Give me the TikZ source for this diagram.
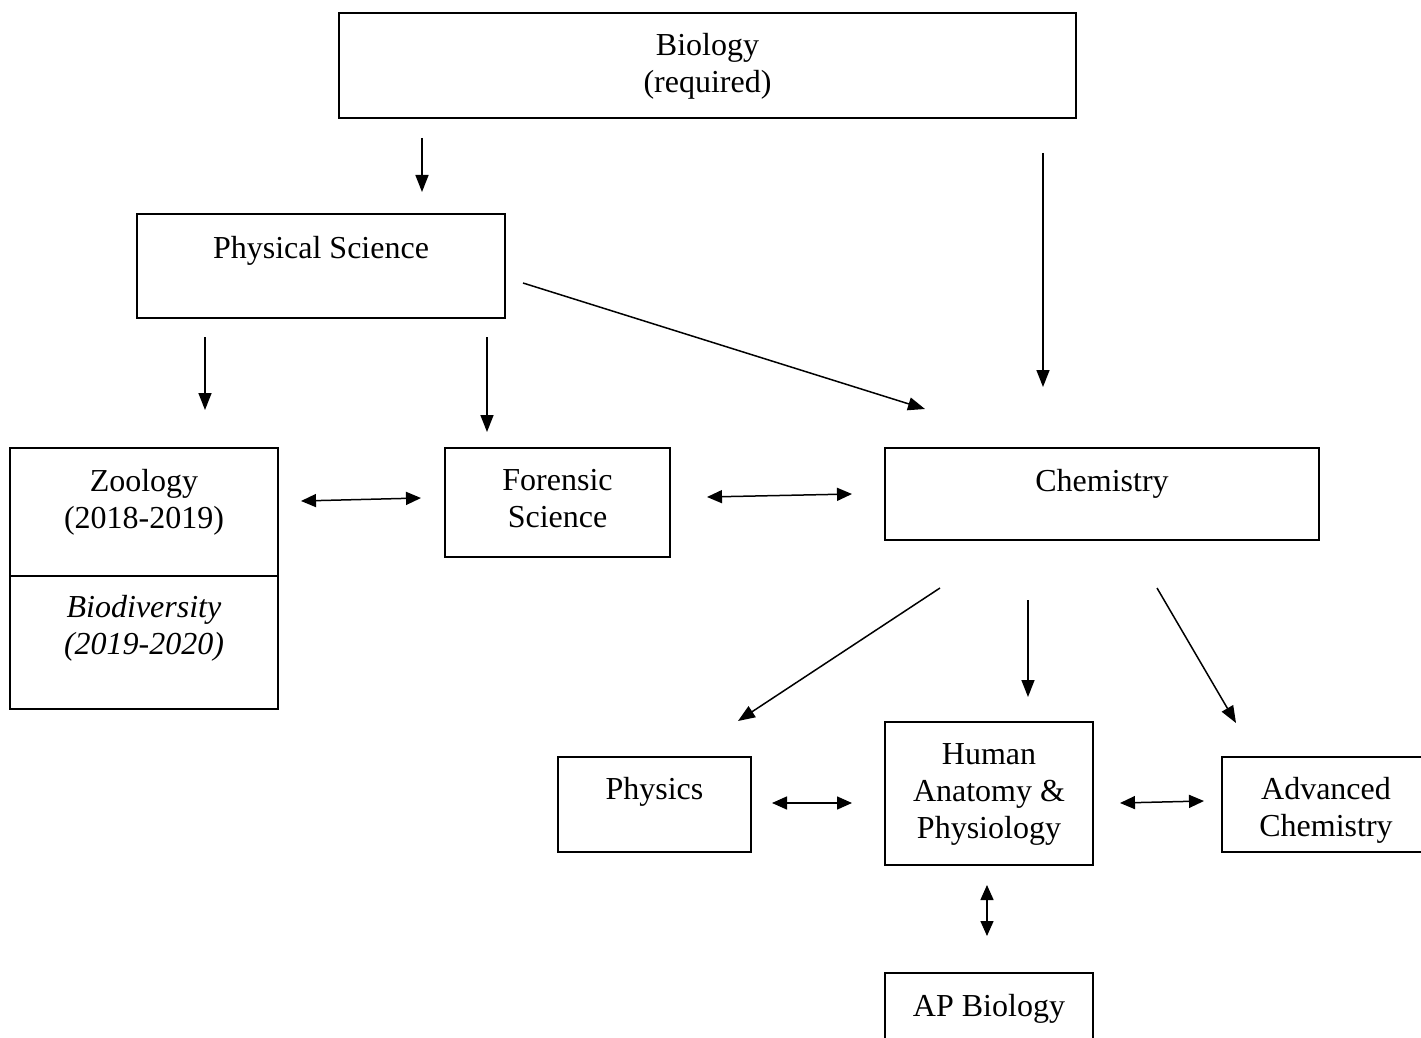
\documentclass[tikz,border=0pt]{standalone}
\usepackage{fontspec}
\setmainfont{Liberation Serif}
\usetikzlibrary{arrows.meta}
\begin{document}
\begin{tikzpicture}[x=0.5pt,y=-0.5pt,
  box/.style={draw, line width=0.9pt, rectangle, inner sep=0pt},
  lbl/.style={anchor=base, align=center, inner sep=0pt, font=\fontsize{16}{18.5}\selectfont},
  conn/.style={line width=0.75pt, -{Triangle[length=8.5pt,width=6.5pt]}},
  dconn/.style={line width=0.75pt, {Triangle[length=7.5pt,width=6.5pt]}-{Triangle[length=7.5pt,width=6.5pt]}}]
\useasboundingbox (0,0) rectangle (1421,1038);
% boxes
\node[box, minimum width=368.5pt, minimum height=52.5pt] (bio) at (707.5,65.5) {};
\node[box, minimum width=184pt, minimum height=52pt] (phys) at (321,266) {};
\node[box, minimum width=134pt, minimum height=130.5pt] (zoo) at (144,578.5) {};
\node[box, minimum width=112.5pt, minimum height=54.5pt] (for) at (557.5,502.5) {};
\node[box, minimum width=217pt, minimum height=46pt] (chem) at (1102,494) {};
\node[box, minimum width=96.5pt, minimum height=47.5pt] (phy) at (654.5,804.5) {};
\node[box, minimum width=104pt, minimum height=71.5pt] (hap) at (989,793.5) {};
\node[box, minimum width=105pt, minimum height=47.5pt] (adv) at (1327,804.5) {};
\node[box, minimum width=104pt, minimum height=43.5pt] (ap) at (989,1016.5) {};
\coordinate (zdl) at (10,576);
\coordinate (zdr) at (278,576);
\draw[line width=0.9pt] (zdl) -- (zdr);
% labels (anchor = baseline of the last line)
\node[lbl] (tbio) at (707.5,93) {Biology\\(required)};
\node[lbl] (tphys) at (321,258) {Physical Science};
\node[lbl] (tzoo) at (144,528) {Zoology\\(2018-2019)};
\node[lbl, font=\fontsize{16}{18.5}\selectfont\itshape] (tbiod) at (144,654) {Biodiversity\\(2019-2020)};
\node[lbl] (tfor) at (557.5,527) {Forensic\\Science};
\node[lbl] (tchem) at (1102,491) {Chemistry};
\node[lbl] (tphy) at (654.5,799) {Physics};
\node[lbl] (thap) at (989,838) {Human\\Anatomy \&\\Physiology};
\node[lbl] (tadv) at (1326,836) {Advanced\\Chemistry};
\node[lbl] (tap) at (989,1016) {AP Biology};
% connector end points
\coordinate (a1s) at (422,138); \coordinate (a1e) at (422,192);
\coordinate (a2s) at (1043,153); \coordinate (a2e) at (1043,387);
\coordinate (a3s) at (523,283); \coordinate (a3e) at (925,409);
\coordinate (a4s) at (205,337); \coordinate (a4e) at (205,410);
\coordinate (a5s) at (487,337); \coordinate (a5e) at (487,432);
\coordinate (a6s) at (301,501); \coordinate (a6e) at (421,498);
\coordinate (a7s) at (707,497); \coordinate (a7e) at (852,494);
\coordinate (a8s) at (940,588); \coordinate (a8e) at (738,721);
\coordinate (a9s) at (1028,600); \coordinate (a9e) at (1028,697);
\coordinate (a10s) at (1157,588); \coordinate (a10e) at (1236,723);
\coordinate (a11s) at (772,803); \coordinate (a11e) at (852,803);
\coordinate (a12s) at (1120,803); \coordinate (a12e) at (1204,801);
\coordinate (a13s) at (987,885); \coordinate (a13e) at (987,936);
% connectors
\draw[conn] (a1s) -- (a1e);
\draw[conn] (a2s) -- (a2e);
\draw[conn] (a3s) -- (a3e);
\draw[conn] (a4s) -- (a4e);
\draw[conn] (a5s) -- (a5e);
\draw[dconn] (a6s) -- (a6e);
\draw[dconn] (a7s) -- (a7e);
\draw[conn] (a8s) -- (a8e);
\draw[conn] (a9s) -- (a9e);
\draw[conn] (a10s) -- (a10e);
\draw[dconn] (a11s) -- (a11e);
\draw[dconn] (a12s) -- (a12e);
\draw[dconn] (a13s) -- (a13e);
\end{tikzpicture}
\end{document}
